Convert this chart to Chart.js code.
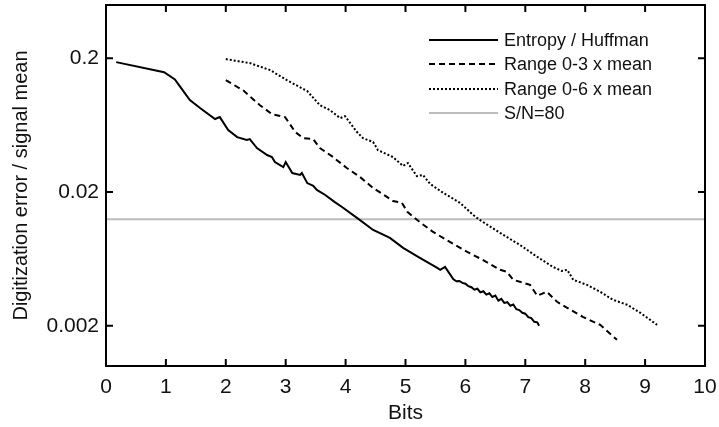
<!DOCTYPE html>
<html>
<head>
<meta charset="utf-8">
<script src="https://cdn.jsdelivr.net/npm/chart.js@4.4.1/dist/chart.umd.min.js"></script>
<style>
  body { margin: 0; background: #fff; }
  #wrap { width: 719px; height: 427px; }
</style>
</head>
<body>
<div id="wrap"><canvas id="errChart"></canvas></div>
<script>
// Entropy / Huffman (solid)
const bitsHuff = [0.17, 0.97, 1.15, 1.24, 1.40, 1.57, 1.82, 1.90, 2.04, 2.19, 2.35, 2.40, 2.52, 2.69, 2.77, 2.82, 2.96, 3.00,
  3.11, 3.24, 3.27, 3.36, 3.46, 3.52, 3.66, 3.82, 3.94, 4.19, 4.46, 4.74, 4.96, 5.24, 5.53, 5.58, 5.66,
  5.80, 5.85, 5.90, 5.95, 6.00, 6.05, 6.10, 6.15, 6.20, 6.25, 6.30, 6.35, 6.40, 6.45, 6.50, 6.55, 6.60,
  6.65, 6.70, 6.75, 6.80, 6.85, 6.90, 6.95, 7.00, 7.05, 7.10, 7.15, 7.20, 7.23];
const errHuff = [0.187, 0.157, 0.139, 0.122, 0.0973, 0.0848, 0.0702, 0.0726, 0.0581, 0.0514, 0.0489, 0.0497, 0.0426, 0.0378, 0.0365, 0.0335, 0.0307, 0.0335,
  0.0277, 0.0268, 0.0277, 0.0233, 0.0222, 0.0207, 0.0190, 0.0168, 0.01545, 0.0128, 0.0104, 0.00907, 0.00764, 0.00643, 0.00542, 0.00524, 0.00551,
  0.00445, 0.00430, 0.00432, 0.00418, 0.00412, 0.00395, 0.00388, 0.00372, 0.00378, 0.00355, 0.00362, 0.00342, 0.00350, 0.00328, 0.00336, 0.00308, 0.00318,
  0.00296, 0.00300, 0.00282, 0.00288, 0.00266, 0.00262, 0.00250, 0.00246, 0.00232, 0.00228, 0.00214, 0.00212, 0.00200];

// Range 0-3 x mean (dashed)
const bitsR3 = [2.00, 2.29, 2.57, 2.77, 2.99, 3.16, 3.29, 3.46, 3.57, 3.79, 4.02, 4.24, 4.46, 4.69, 4.79, 4.94, 5.03, 5.24,
  5.46, 5.74, 6.03, 6.29, 6.58, 6.69, 6.80, 7.08, 7.20, 7.36, 7.53, 7.70, 7.96, 8.25, 8.53];
const errR3 = [0.137, 0.115, 0.0891, 0.0764, 0.0726, 0.0561, 0.0506, 0.0497, 0.0426, 0.0365, 0.0302, 0.0259, 0.0214, 0.0184, 0.0171, 0.0166, 0.0142, 0.0119,
  0.01005, 0.00847, 0.00713, 0.00622, 0.00524, 0.00506, 0.00441, 0.00404, 0.00335, 0.00359, 0.00302, 0.00272, 0.00233, 0.00203, 0.00157];

// Range 0-6 x mean (dotted)
const bitsR6 = [2.00, 2.40, 2.74, 3.02, 3.36, 3.57, 3.74, 3.91, 3.99, 4.19, 4.29, 4.46, 4.54, 4.79, 4.96, 5.04, 5.19, 5.29,
  5.41, 5.63, 5.91, 6.13, 6.24, 6.58, 6.91, 7.20, 7.46, 7.61, 7.70, 7.80, 8.03, 8.25, 8.46, 8.70, 8.92, 9.20];
const errR6 = [0.197, 0.184, 0.163, 0.137, 0.1135, 0.0891, 0.0818, 0.0713, 0.0738, 0.0561, 0.0506, 0.0472, 0.0411, 0.0365, 0.0313, 0.0329, 0.0263, 0.0268,
  0.0230, 0.0197, 0.0166, 0.01346, 0.01236, 0.00988, 0.00804, 0.00654, 0.00551, 0.00514, 0.00524, 0.00441, 0.00404, 0.00359, 0.00313, 0.00287, 0.00250, 0.00203];

// S/N = 80 reference line
const bitsSN = [0, 10];
const errSN = [0.0125, 0.0125];

const xTicks = [0, 1, 2, 3, 4, 5, 6, 7, 8, 9, 10];
const yTicks = [0.002, 0.02, 0.2];

const legendLabels = ["Entropy / Huffman", "Range 0-3 x mean", "Range 0-6 x mean", "S/N=80"];

function pts(xs, ys) {
  return xs.map((x, i) => ({ x: x, y: ys[i] }));
}

Chart.defaults.font.family = "'Liberation Sans', Arial, sans-serif";
Chart.defaults.color = "#111";

const lineStyles = [
  { color: "#000", width: 2, dash: [] },
  { color: "#000", width: 2, dash: [6, 4] },
  { color: "#000", width: 2, dash: [2, 2] },
  { color: "#bdbdbd", width: 2, dash: [] },
];

// box frame with inward ticks + legend inside the plot
const frameAndLegend = {
  id: "frameAndLegend",
  afterDraw(chart) {
    const ctx = chart.ctx;
    const a = chart.chartArea;
    const xs = chart.scales.x;
    const ys = chart.scales.y;
    ctx.save();
    ctx.strokeStyle = "#000";
    ctx.lineWidth = 2;
    ctx.setLineDash([]);
    ctx.strokeRect(a.left, a.top, a.right - a.left, a.bottom - a.top);
    const tl = 7;
    ctx.beginPath();
    xTicks.forEach(v => {
      const px = xs.getPixelForValue(v);
      ctx.moveTo(px, a.bottom); ctx.lineTo(px, a.bottom - tl);
      ctx.moveTo(px, a.top); ctx.lineTo(px, a.top + tl);
    });
    yTicks.forEach(v => {
      const py = ys.getPixelForValue(v);
      ctx.moveTo(a.left, py); ctx.lineTo(a.left + tl, py);
      ctx.moveTo(a.right, py); ctx.lineTo(a.right - tl, py);
    });
    ctx.stroke();

    // legend
    const lx0 = 429, lx1 = 498, rows = [40, 64, 89, 113];
    ctx.font = "18px 'Liberation Sans', Arial, sans-serif";
    ctx.textBaseline = "middle";
    ctx.fillStyle = "#111";
    legendLabels.forEach((lab, i) => {
      const s = lineStyles[i];
      ctx.beginPath();
      ctx.strokeStyle = s.color;
      ctx.lineWidth = s.width;
      ctx.setLineDash(s.dash);
      ctx.moveTo(lx0, rows[i]);
      ctx.lineTo(lx1, rows[i]);
      ctx.stroke();
      ctx.fillText(lab, 504, rows[i] + 1);
    });
    ctx.restore();
  }
};

const seriesX = [bitsHuff, bitsR3, bitsR6, bitsSN];
const seriesY = [errHuff, errR3, errR6, errSN];

const datasets = seriesX.map((xs, i) => ({
  label: legendLabels[i],
  data: pts(xs, seriesY[i]),
  borderColor: lineStyles[i].color,
  borderWidth: lineStyles[i].width,
  borderDash: lineStyles[i].dash,
  pointRadius: 0,
  tension: 0,
  fill: false,
  order: i === 3 ? 10 : i,
}));

const ctx = document.getElementById("errChart").getContext("2d");
const errChart = new Chart(ctx, {
  type: "line",
  data: { datasets: datasets },
  options: {
    responsive: true,
    maintainAspectRatio: false,
    animation: false,
    layout: { padding: { left: 0, right: 14, top: 5, bottom: 0 } },
    plugins: {
      legend: { display: false },
      tooltip: { enabled: false },
    },
    scales: {
      x: {
        type: "linear",
        min: 0,
        max: 10,
        afterBuildTicks: s => { s.ticks = xTicks.map(v => ({ value: v })); },
        afterFit: s => { s.height = 61; s.paddingLeft = 0; s.paddingRight = 0; },
        grid: { display: false, drawTicks: false },
        border: { display: false },
        ticks: { font: { size: 21 }, padding: 9, maxRotation: 0, autoSkip: false },
        title: { display: true, text: "Bits", font: { size: 21 }, padding: { top: 0, bottom: 1 } },
      },
      y: {
        type: "logarithmic",
        min: 0.001,
        max: 0.5,
        afterBuildTicks: s => { s.ticks = yTicks.map(v => ({ value: v })); },
        afterFit: s => { s.width = 106; s.paddingTop = 0; s.paddingBottom = 0; },
        grid: { display: false, drawTicks: false },
        border: { display: false },
        ticks: { font: { size: 21 }, padding: 7, callback: v => String(v) },
        title: { display: true, text: "Digitization error / signal mean", font: { size: 20 }, padding: { top: 9, bottom: 0 } },
      },
    },
  },
  plugins: [frameAndLegend],
});
</script>
</body>
</html>
